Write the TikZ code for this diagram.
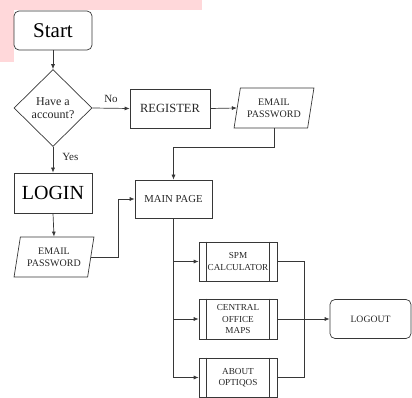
\documentclass[tikz,border=0pt]{standalone}
\usepackage{fontspec}
\setmainfont{Liberation Serif}
\usetikzlibrary{shapes.geometric,arrows.meta,calc}
\definecolor{pinkbg}{RGB}{255,216,218}
\definecolor{linec}{RGB}{55,55,55}
\newcommand{\fs}[1]{\fontsize{#1}{#1}\selectfont}
\begin{document}
\begin{tikzpicture}[x=1pt,y=-1pt,
  every node/.style={font=\fs{10}, text=black!85, align=center, inner sep=0pt},
  box/.style={draw=linec, line width=0.7pt, rectangle, minimum width=#1, minimum height=39pt},
  box/.default=78pt,
  rbox/.style={box=#1, rounded corners=5pt},
  rbox/.default=78pt,
  para/.style={draw=linec, line width=0.7pt, trapezium, trapezium left angle=75, trapezium right angle=105,
     trapezium stretches=true, minimum width=#1, minimum height=40pt},
  para/.default=78pt,
  sub/.style={box=78pt, append after command={
     \pgfextra{\draw[linec, line width=0.7pt] ([xshift=8pt]\tikzlastnode.north west) -- ([xshift=8pt]\tikzlastnode.south west)
        ([xshift=-8pt]\tikzlastnode.north east) -- ([xshift=-8pt]\tikzlastnode.south east);}}},
  conn/.style={draw=linec, line width=0.7pt},
  arr/.style={conn, -{Latex[length=5pt,width=4pt]}}
]
\useasboundingbox (0,0) rectangle (412,398);
% pink highlight
\fill[pinkbg] (0,0) rectangle (202,10.5);
\fill[pinkbg] (0,0) rectangle (14,62);

\node[rbox, fill=white, font=\fs{21}, text=black] (start) at (53,30.5) {Start};
\node[diamond, draw=linec, line width=0.7pt, minimum width=78pt, minimum height=77pt, aspect=1, font=\fs{12}] (dec) at (53,108) {Have a\\[1pt]account?};
\node[box=80pt, font=\fs{12.5}] (register) at (170,108.5) {REGISTER};
\node[para=80pt] (email1) at (274,108) {EMAIL\\[2pt]PASSWORD};
\node[box, minimum height=40pt, font=\fs{20}, text=black] (login) at (53,193) {LOGIN};
\node[para=80pt] (email2) at (54,257) {EMAIL\\[2pt]PASSWORD};
\node[box=77pt, minimum height=38pt, font=\fs{10.7}] (main) at (173.5,199) {MAIN PAGE};
\node[sub, font=\fs{9.2}] (spm) at (238,261.5) {SPM\\[2pt]CALCULATOR};
\node[sub, minimum height=40pt, font=\fs{9.2}] (central) at (238,319) {CENTRAL\\[2pt]OFFICE\\[2pt]MAPS};
\node[sub, font=\fs{9.2}] (about) at (238,377.5) {ABOUT\\[2pt]OPTIQOS};
\node[rbox=81pt, font=\fs{9.7}] (logout) at (370.5,319) {LOGOUT};
\coordinate (j) at (304,319);

\draw[arr] (start.south) -- (dec.north);
\draw[arr] (dec.east) -- node[above=5pt, font=\fs{11}] (no) {No} (register.west);
\draw[arr] (dec.south) -- node[right=9pt, pos=0.4, font=\fs{11}] (yes) {Yes} (login.north);
\draw[arr] (register.east) -- (email1.west);
\draw[arr] (email1.south) -- ++(0,19) -| (main.north);
\draw[arr] (login.south) -- (email2.north);
\draw[arr] (email2.east) -- ++(27,0) |- (main.west);
\draw[arr] (main.south) |- (spm.west);
\draw[arr] (main.south) |- (central.west);
\draw[arr] (main.south) |- (about.west);
\draw[conn] (spm.east) -| (j);
\draw[conn] (about.east) -| (j);
\draw[arr] (central.east) -- (logout.west);
\end{tikzpicture}
\end{document}
